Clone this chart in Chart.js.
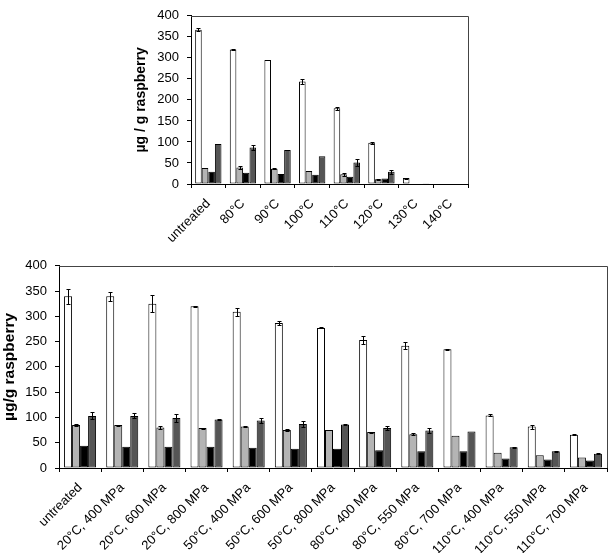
<!DOCTYPE html>
<html>
<head>
<meta charset="utf-8">
<script src="https://cdn.jsdelivr.net/npm/chart.js@4/dist/chart.umd.min.js"></script>
<style>
  body { margin: 0; background: #fff; }
  canvas { position: absolute; left: 0; }
</style>
</head>
<body>
<canvas id="graficoTermico" width="610" height="250" style="top:0"></canvas>
<canvas id="graficoPressione" width="610" height="303" style="top:250px"></canvas>
<script>
// top chart: thermal treatment
var termLabels = ['untreated', '80°C', '90°C', '100°C', '110°C', '120°C', '130°C', '140°C'];
var termWhite = [367, 320, 295, 244, 180, 98, 14, 0];
var termLight = [38, 39, 36, 31, 23, 11, 0, 0];
var termBlack = [29, 27, 24, 22, 17, 13, 1, 0];
var termDark = [95, 87, 81, 66, 51, 29, 1.5, 0];
var termWhiteErr = [3, 2, 1, 6, 4, 2, 1, 0];
var termLightErr = [1, 3, 1, 1, 3, 1, 0, 0];
var termBlackErr = [0, 0, 0, 0, 0, 0, 0, 0];
var termDarkErr = [1, 5, 1, 0, 8, 5, 0, 0];

// bottom chart: high pressure / temperature treatment
var presLabels = ['untreated', '20°C, 400 MPa', '20°C, 600 MPa', '20°C, 800 MPa', '50°C, 400 MPa', '50°C, 600 MPa',
  '50°C, 800 MPa', '80°C, 400 MPa', '80°C, 550 MPa', '80°C, 700 MPa', '110°C, 400 MPa', '110°C, 550 MPa', '110°C, 700 MPa'];
var presWhite = [340, 340, 325, 320, 309, 287, 277, 253, 242, 235, 104, 82, 66];
var presLight = [85, 85, 80, 79, 82, 75, 75, 71, 67, 64, 30, 25, 21];
var presBlack = [44, 42, 42, 42, 40, 38, 38, 35, 33, 33, 19, 17, 15];
var presDark = [103, 103, 99, 96, 94, 87, 86, 79, 74, 72, 41, 33, 28];
var presWhiteErr = [15, 9, 17, 1, 8, 4, 1, 8, 7, 1, 2, 4, 1];
var presLightErr = [2, 1, 3, 1, 1, 2, 0, 1, 2, 0, 0, 0, 0];
var presBlackErr = [0, 0, 0, 0, 0, 0, 0, 0, 0, 0, 0, 0, 0];
var presDarkErr = [7, 5, 8, 1, 5, 5, 1, 4, 5, 0, 1, 1, 1];

var coloriBarre = ['#ffffff', '#b4b4b4', '#000000', '#555555'];

var errorBars = {
  id: 'errorBars',
  afterDatasetsDraw: function(chart) {
    var ctx = chart.ctx;
    var scalaY = chart.scales.y;
    ctx.save();
    ctx.strokeStyle = '#000';
    ctx.lineWidth = 1;
    chart.data.datasets.forEach(function(ds, i) {
      var meta = chart.getDatasetMeta(i);
      meta.data.forEach(function(bar, j) {
        var e = ds.errori[j];
        if (!e) return;
        var v = ds.data[j];
        var yA = Math.round(scalaY.getPixelForValue(v + e)) + 0.5;
        var yB = Math.round(scalaY.getPixelForValue(Math.max(v - e, 0))) + 0.5;
        var x = Math.round(bar.x) + 0.5;
        var half = Math.max(bar.width / 2 - 2, 2);
        ctx.beginPath();
        ctx.moveTo(x, yA); ctx.lineTo(x, yB);
        ctx.moveTo(x - half, yA); ctx.lineTo(x + half, yA);
        ctx.moveTo(x - half, yB); ctx.lineTo(x + half, yB);
        ctx.stroke();
      });
    });
    ctx.restore();
  }
};

var cornice = {
  id: 'cornice',
  afterDraw: function(chart) {
    var a = chart.chartArea;
    var ctx = chart.ctx;
    ctx.save();
    ctx.strokeStyle = '#444';
    ctx.lineWidth = 1;
    ctx.beginPath();
    ctx.moveTo(Math.round(a.left), Math.round(a.top) + 0.5);
    ctx.lineTo(Math.round(a.right) + 0.5, Math.round(a.top) + 0.5);
    ctx.lineTo(Math.round(a.right) + 0.5, Math.round(a.bottom));
    ctx.stroke();
    ctx.restore();
  }
};

function dataset(nome, valori, errori, colore) {
  return {
    label: nome,
    data: valori,
    errori: errori,
    backgroundColor: colore,
    borderColor: '#000',
    borderWidth: 1,
    borderSkipped: false,
    categoryPercentage: 0.76,
    barPercentage: 1
  };
}

function creaGrafico(id, labels, serie, opz) {
  var config = {
    type: 'bar',
    data: {
      labels: labels,
      datasets: serie
    },
    options: {
      responsive: false,
      animation: false,
      devicePixelRatio: 1,
      layout: { padding: opz.padding },
      plugins: { legend: { display: false }, tooltip: { enabled: false } },
      scales: {
        x: {
          grid: { offset: true, drawOnChartArea: false, tickLength: 4, color: '#000' },
          border: { color: '#000' },
          ticks: { autoSkip: false, maxRotation: 45, minRotation: 45, padding: 8, color: '#000',
            font: { family: 'Liberation Sans, Arial', size: 13 } },
          afterFit: function(s) { s.height = opz.xHeight; }
        },
        y: {
          min: 0, max: 400,
          grid: { drawOnChartArea: false, tickLength: 4, color: '#000' },
          border: { color: '#000' },
          ticks: { stepSize: 50, padding: 8, color: '#000',
            font: { family: 'Liberation Sans, Arial', size: 13 } },
          title: { display: true, text: opz.titolo, color: '#000', padding: 0,
            font: { family: 'Liberation Sans, Arial', size: opz.titoloSize, weight: 'bold' } },
          afterFit: function(s) { s.width = opz.yWidth; }
        }
      }
    },
    plugins: [errorBars, cornice]
  };
  return new Chart(document.getElementById(id), config);
}

creaGrafico('graficoTermico', termLabels, [
  dataset('Serie 1', termWhite, termWhiteErr, coloriBarre[0]),
  dataset('Serie 2', termLight, termLightErr, coloriBarre[1]),
  dataset('Serie 3', termBlack, termBlackErr, coloriBarre[2]),
  dataset('Serie 4', termDark, termDarkErr, coloriBarre[3])
], { padding: { left: 133, top: 8, right: 142, bottom: 0 }, xHeight: 66, yWidth: 58,
     titolo: 'µg / g raspberry', titoloSize: 14 });

creaGrafico('graficoPressione', presLabels, [
  dataset('Serie 1', presWhite, presWhiteErr, coloriBarre[0]),
  dataset('Serie 2', presLight, presLightErr, coloriBarre[1]),
  dataset('Serie 3', presBlack, presBlackErr, coloriBarre[2]),
  dataset('Serie 4', presDark, presDarkErr, coloriBarre[3])
], { padding: { left: 0, top: 9, right: 3, bottom: 0 }, xHeight: 85, yWidth: 59,
     titolo: 'µg/g raspberry', titoloSize: 15.5 });
</script>
</body>
</html>
